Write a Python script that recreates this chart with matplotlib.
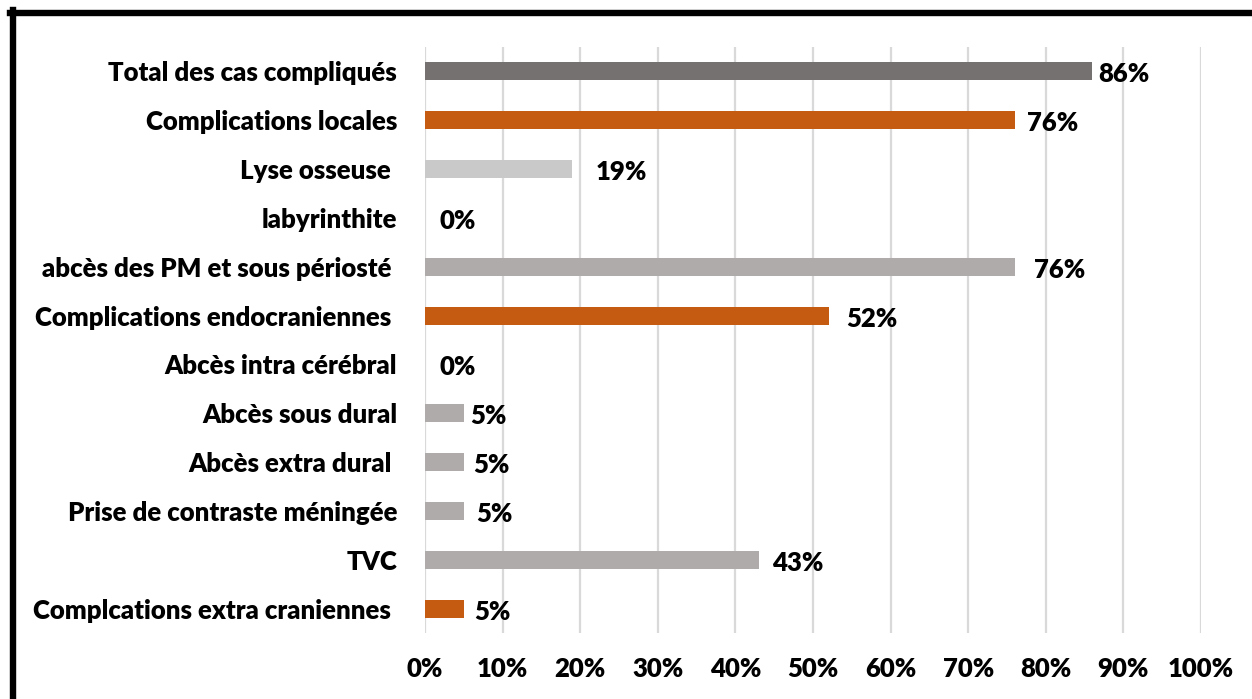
import matplotlib
matplotlib.use("Agg")
import matplotlib.pyplot as plt
from matplotlib.lines import Line2D

categories = [
    "Total des cas compliqués",
    "Complications locales",
    "Lyse osseuse ",
    "labyrinthite",
    "abcès des PM et sous périosté ",
    "Complications endocraniennes ",
    "Abcès intra cérébral",
    "Abcès sous dural",
    "Abcès extra dural ",
    "Prise de contraste méningée",
    "TVC",
    "Complcations extra craniennes ",
]
values = [86, 76, 19, 0, 76, 52, 0, 5, 5, 5, 43, 5]
bar_colors = [
    "#767171", "#C55A11", "#C9C9C9", "#AFABAB", "#AFABAB", "#C55A11",
    "#AFABAB", "#AFABAB", "#AFABAB", "#AFABAB", "#AFABAB", "#C55A11",
]
x_ticks = [0, 10, 20, 30, 40, 50, 60, 70, 80, 90, 100]
x_tick_labels = [f"{t}%" for t in x_ticks]

# gap (pixels) between each bar end and its value label
label_gaps = [6, 12, 23, 14, 19, 18, 14, 6, 9, 12, 13, 10]

plt.rcParams["font.family"] = ["Lato", "DejaVu Sans"]
WEIGHT = "heavy"
FS = 18.5

W, H = 1252, 699
fig = plt.figure(figsize=(W / 100, H / 100), dpi=100)
fig.patch.set_facecolor("white")

left, right, top, bottom = 425, 1201, 47, 633
ax = fig.add_axes([left / W, 1 - bottom / H, (right - left) / W, (bottom - top) / H])

ypos = list(range(len(categories)))
ax.barh(ypos, values, height=0.37, color=bar_colors, zorder=3)

for y, v, gap in zip(ypos, values, label_gaps):
    ax.annotate(f"{v}%", xy=(v, y), xytext=(gap, -3), textcoords="offset pixels",
                ha="left", va="center", fontsize=FS, fontweight=WEIGHT, color="black")

ax.set_xlim(0, 100)
ax.set_ylim(len(categories) - 0.5, -0.5)
ax.set_xticks(x_ticks)
ax.set_xticklabels(x_tick_labels, fontsize=FS, fontweight=WEIGHT)
ax.set_yticks(ypos)
ax.set_yticklabels(categories, fontsize=FS, fontweight=WEIGHT)
ax.tick_params(axis="both", length=0)
ax.tick_params(axis="x", pad=17)
ax.tick_params(axis="y", pad=20)

ax.grid(axis="x", color="#D9D9D9", linewidth=1.6, zorder=0)
ax.set_axisbelow(True)
for s in ax.spines.values():
    s.set_visible(False)

# Frame lines along the top and left edges
fig.add_artist(Line2D([10 / W, 1], [1 - 13 / H, 1 - 13 / H], color="black",
                      linewidth=4.6, transform=fig.transFigure))
fig.add_artist(Line2D([13 / W, 13 / W], [0, 1 - 10 / H], color="black",
                      linewidth=4.6, transform=fig.transFigure))

fig.savefig("out.png", dpi=100, facecolor="white")
